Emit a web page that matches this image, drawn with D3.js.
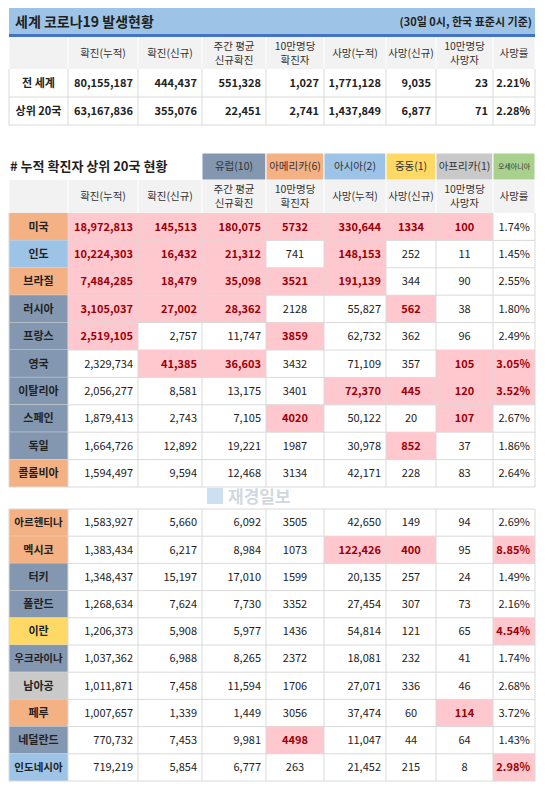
<!DOCTYPE html>
<html><head><meta charset="utf-8">
<script src="https://cdn.jsdelivr.net/npm/d3@7"></script>
<style>body{margin:0;background:#fff}svg{font-family:"Noto Sans CJK KR","Noto Sans",sans-serif}</style>
</head><body><div id="svg"></div>
<script>
// data
const headers = [["확진(누적)"],["확진(신규)"],["주간 평균","신규확진"],["10만명당","확진자"],["사망(누적)"],["사망(신규)"],["10만명당","사망자"],["사망률"]];
const summaryLabels = ["전 세계","상위 20국"];
const summaryRows = [
  ["80,155,187","444,437","551,328","1,027","1,771,128","9,035","23","2.21%"],
  ["63,167,836","355,076","22,451","2,741","1,437,849","6,877","71","2.28%"]
];
const regions = ["유럽(10)","아메리카(6)","아시아(2)","중동(1)","아프리카(1)","오세아니아"];
const regionColors = ["#8497b0","#f4b183","#9dc3e6","#ffd966","#c9c9c9","#a9d18e"];
const countries = ["미국","인도","브라질","러시아","프랑스","영국","이탈리아","스페인","독일","콜롬비아",
  "아르헨티나","멕시코","터키","폴란드","이란","우크라이나","남아공","페루","네덜란드","인도네시아"];
const countryRegion = [1,2,1,0,0,0,0,0,0,1, 1,1,0,0,3,0,4,1,0,2];
const cumulative = ["18,972,813","10,224,303","7,484,285","3,105,037","2,519,105","2,329,734","2,056,277","1,879,413","1,664,726","1,594,497",
  "1,583,927","1,383,434","1,348,437","1,268,634","1,206,373","1,037,362","1,011,871","1,007,657","770,732","719,219"];
const newCases = ["145,513","16,432","18,479","27,002","2,757","41,385","8,581","2,743","12,892","9,594",
  "5,660","6,217","15,197","7,624","5,908","6,988","7,458","1,339","7,453","5,854"];
const weeklyAvg = ["180,075","21,312","35,098","28,362","11,747","36,603","13,175","7,105","19,221","12,468",
  "6,092","8,984","17,010","7,730","5,977","8,265","11,594","1,449","9,981","6,777"];
const casesPer100k = ["5732","741","3521","2128","3859","3432","3401","4020","1987","3134",
  "3505","1073","1599","3352","1436","2372","1706","3056","4498","263"];
const deaths = ["330,644","148,153","191,139","55,827","62,732","71,109","72,370","50,122","30,978","42,171",
  "42,650","122,426","20,135","27,454","54,814","18,081","27,071","37,474","11,047","21,452"];
const newDeaths = ["1334","252","344","562","362","357","445","20","852","228",
  "149","400","257","307","121","232","336","60","44","215"];
const deathsPer100k = ["100","11","90","38","96","105","120","107","37","83",
  "94","95","24","73","65","41","46","114","64","8"];
const deathRate = ["1.74%","1.45%","2.55%","1.80%","2.49%","3.05%","3.52%","2.67%","1.86%","2.64%",
  "2.69%","8.85%","1.49%","2.16%","4.54%","1.74%","2.68%","3.72%","1.43%","2.98%"];
// highlighted (pink) cells per country, column indexes
const highlights = [[0,1,2,3,4,5,6],[0,1,2,4],[0,1,2,3,4],[0,1,2,5],[0,3],[1,2,6,7],[4,5,6,7],[3,6],[5],[],
  [],[4,5,7],[],[],[7],[],[],[6],[3],[7]];

const width = 548, height = 786;
const edges = [9,68,138,202,266,324,386,436,493,535];
const align = ["end","end","end","middle","end","middle","middle","end"];
const gridColor = "#d9d9d9";

const svg = d3.select("#svg").append("svg").attr("width", width).attr("height", height);

function cellText(g, col, yMid, txt, opts) {
  const a = opts.align || "middle";
  const x = a === "end" ? edges[col+1] - 5 : a === "start" ? edges[col] + 4 : (edges[col] + edges[col+1]) / 2;
  g.append("text").attr("x", x).attr("y", yMid).attr("dy", "0.35em")
    .attr("text-anchor", a).attr("font-size", opts.size || 11)
    .attr("font-weight", opts.bold ? "bold" : "normal")
    .attr("fill", opts.color || "#222").text(txt);
}

// title bar
svg.append("rect").attr("x", 9).attr("y", 8).attr("width", 526).attr("height", 27).attr("fill", "#9dc3e6");
svg.append("rect").attr("x", 9).attr("y", 34).attr("width", 526).attr("height", 3).attr("fill", "#4472c4");
svg.append("text").attr("x", 15).attr("y", 22).attr("dy", "0.35em").attr("font-size", 14).attr("font-weight", "bold").attr("fill", "#1f1f1f").text("세계 코로나19 발생현황");
svg.append("text").attr("x", 532).attr("y", 22).attr("dy", "0.35em").attr("text-anchor", "end").attr("font-size", 11).attr("font-weight", "bold").attr("fill", "#1f1f1f").text("(30일 0시, 한국 표준시 기준)");

function drawHeader(g, y0, h) {
  g.append("rect").attr("x", edges[0]).attr("y", y0).attr("width", edges[9] - edges[0]).attr("height", h).attr("fill", "#f2f2f2");
  headers.forEach((lines, i) => {
    const mid = y0 + h / 2;
    lines.forEach((l, k) => cellText(g, i + 1, mid + (k - (lines.length - 1) / 2) * 14, l, {size: 10.5, color: "#333"}));
  });
  edges.forEach(x => g.append("line").attr("x1", x).attr("x2", x).attr("y1", y0).attr("y2", y0 + h).attr("stroke", "#fff"));
}

// summary table
const summary = svg.append("g");
drawHeader(summary, 37, 32);
const yTop = d3.scaleBand().domain(d3.range(summaryRows.length)).range([69, 125]);
summaryRows.forEach((row, r) => {
  const y0 = yTop(r), mid = y0 + yTop.bandwidth() / 2;
  cellText(summary, 0, mid, summaryLabels[r], {bold: true, size: 11});
  row.forEach((v, c) => cellText(summary, c + 1, mid, v, {align: "end", bold: true, size: 11}));
  summary.append("line").attr("x1", edges[0]).attr("x2", edges[9]).attr("y1", y0 + yTop.bandwidth()).attr("y2", y0 + yTop.bandwidth()).attr("stroke", gridColor);
});
edges.forEach(x => summary.append("line").attr("x1", x).attr("x2", x).attr("y1", 69).attr("y2", 125).attr("stroke", gridColor));

// second section title + region legend
svg.append("text").attr("x", 10).attr("y", 166).attr("dy", "0.35em").attr("font-size", 13).attr("font-weight", "bold").attr("fill", "#1f1f1f").text("# 누적 확진자 상위 20국 현황");
regions.forEach((r, i) => {
  svg.append("rect").attr("x", edges[i+3]).attr("y", 153).attr("width", edges[i+4] - edges[i+3]).attr("height", 27)
    .attr("fill", regionColors[i]).attr("stroke", "#fff");
  cellText(svg, i + 3, 166.5, r, {size: i === 5 ? 7 : 10.5, color: "#333"});
});
drawHeader(svg.append("g"), 180, 33);

// country rows
const body = svg.append("g");
const yA = d3.scaleBand().domain(d3.range(10)).range([213, 487]);
const yB = d3.scaleBand().domain(d3.range(10, 20)).range([509, 781]);
const cols = [cumulative, newCases, weeklyAvg, casesPer100k, deaths, newDeaths, deathsPer100k, deathRate];
countries.forEach((name, i) => {
  const ys = i < 10 ? yA : yB;
  const y0 = ys(i), h = ys.bandwidth(), mid = y0 + h / 2;
  body.append("rect").attr("x", edges[0]).attr("y", y0).attr("width", edges[1] - edges[0]).attr("height", h)
    .attr("fill", regionColors[countryRegion[i]]);
  cellText(body, 0, mid, name, {bold: true, size: name.length > 4 ? 10.5 : 11});
  cols.forEach((col, c) => {
    const hl = highlights[i].includes(c);
    if (hl) body.append("rect").attr("x", edges[c+1]).attr("y", y0).attr("width", edges[c+2] - edges[c+1]).attr("height", h).attr("fill", "#ffc7ce");
    cellText(body, c + 1, mid, col[i], {align: align[c], bold: hl, color: hl ? "#9c0006" : "#222", size: 11});
  });
  body.append("line").attr("x1", edges[0]).attr("x2", edges[9]).attr("y1", y0 + h).attr("y2", y0 + h).attr("stroke", gridColor);
  if (i === 10) body.append("line").attr("x1", edges[0]).attr("x2", edges[9]).attr("y1", y0).attr("y2", y0).attr("stroke", gridColor);
});
[[213, 487], [509, 781]].forEach(([a, b]) => edges.forEach(x =>
  body.append("line").attr("x1", x).attr("x2", x).attr("y1", a).attr("y2", b).attr("stroke", gridColor)));

// watermark
const wm = svg.append("g").attr("opacity", 0.35);
wm.append("rect").attr("x", 207).attr("y", 488).attr("width", 16).attr("height", 16).attr("fill", "#6fa8dc");
wm.append("text").attr("x", 228).attr("y", 497).attr("dy", "0.35em").attr("font-size", 17).attr("font-weight", "bold").attr("fill", "#7f8fa6").text("재경일보");
</script></body></html>
